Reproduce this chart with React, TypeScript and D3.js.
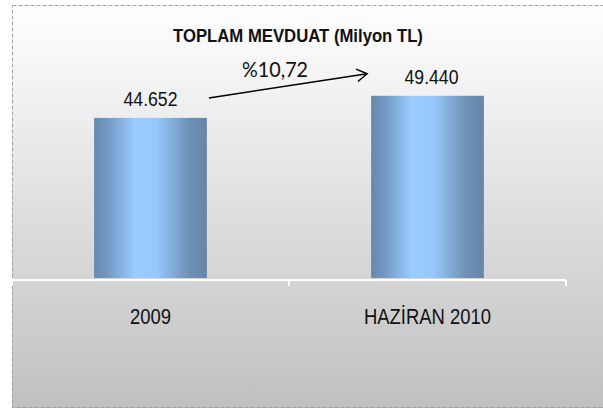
import React from "react";
import * as d3 from "d3";

const categories = ["2009", "HAZİRAN 2010"];
const values = [44652, 49440];
const title = "TOPLAM MEVDUAT (Milyon TL)";
const yDomain = [10000, 60000];

const W = 603;
const H = 419;

const trLocale = d3.formatLocale({ decimal: ",", thousands: ".", grouping: [3], currency: ["", " TL"] });
const fmtValue = trLocale.format(",.0f");
const fmtPct = trLocale.format(".2f");

export default function App() {
  const frame = { left: 12, top: 5, right: 610, bottom: 408 };
  const x = d3.scaleBand<string>().domain(categories).range([12, 566]).paddingInner(0.593).paddingOuter(0.2965);
  const xAxis = d3.scaleBand<string>().domain(categories).range([12, 566]).padding(0);
  const y = d3.scaleLinear().domain(yDomain).range([278, 47]);

  const growth = ((values[1] - values[0]) / values[0]) * 100;
  const pctText = "%" + fmtPct(growth);

  const x0 = x(categories[0])! + x.bandwidth();
  const x1 = x(categories[1])!;
  const arrowStart: [number, number] = [x0 + 2, y(values[0]) - 20];
  const arrowEnd: [number, number] = [x1 - 4, y(values[1]) - 22];
  const ang = Math.atan2(arrowEnd[1] - arrowStart[1], arrowEnd[0] - arrowStart[0]);
  const hl = 12, hw = 0.55;
  const head = [
    [arrowEnd[0] - hl * Math.cos(ang - hw), arrowEnd[1] - hl * Math.sin(ang - hw)],
    arrowEnd,
    [arrowEnd[0] - hl * Math.cos(ang + hw), arrowEnd[1] - hl * Math.sin(ang + hw)],
  ];

  const ticks = [12, ...categories.map((c) => xAxis(c)! + xAxis.bandwidth())];

  return (
    <svg width={W} height={H} style={{ position: "absolute", left: 0, top: 0 }} fontFamily="'Liberation Sans', Arial, sans-serif">
      <defs>
        <linearGradient id="bg" x1="0" y1="0" x2="0" y2="1">
          <stop offset="0" stopColor="#ffffff" />
          <stop offset="1" stopColor="#c0c0c0" />
        </linearGradient>
        <linearGradient id="bar" x1="0" y1="0" x2="1" y2="0">
          <stop offset="0" stopColor="#6788ad" />
          <stop offset="0.12" stopColor="#7399c3" />
          <stop offset="0.36" stopColor="#99ccff" />
          <stop offset="0.55" stopColor="#97c9fc" />
          <stop offset="0.84" stopColor="#6f91b6" />
          <stop offset="1" stopColor="#6585a8" />
        </linearGradient>
      </defs>
      <rect x={frame.left} y={frame.top} width={frame.right - frame.left} height={frame.bottom - frame.top} fill="url(#bg)" />
      <rect x={frame.left + 0.5} y={frame.top + 0.5} width={frame.right - frame.left} height={frame.bottom - frame.top - 1} fill="none" stroke="#a0a0a0" strokeWidth={1} strokeDasharray="4,2" />

      {categories.map((c, i) => (
        <rect key={c} x={x(c)} y={y(values[i])} width={x.bandwidth()} height={y(yDomain[0]) - y(values[i])} fill="url(#bar)" />
      ))}

      <line x1={12} x2={566} y1={280} y2={280} stroke="#ffffff" strokeWidth={2} />
      {ticks.map((t, i) => (
        <line key={i} x1={t} x2={t} y1={280} y2={286} stroke="#ffffff" strokeWidth={2} />
      ))}

      {categories.map((c, i) => (
        <text key={"v" + c} transform={`translate(${x(c)! + x.bandwidth() / 2 + (i === 1 ? 4 : 0)},${y(values[i]) - 12}) scale(0.84,1)`} textAnchor="middle" fontSize={21} fill="#111">
          {fmtValue(values[i])}
        </text>
      ))}

      {categories.map((c) => (
        <text key={"c" + c} transform={`translate(${xAxis(c)! + xAxis.bandwidth() / 2},324) scale(0.84,1)`} textAnchor="middle" fontSize={22} fill="#111">
          {c}
        </text>
      ))}

      <text transform={`translate(298,42) scale(0.88,1)`} textAnchor="middle" fontSize={19} fontWeight="bold" fill="#111">
        {title}
      </text>

      <line x1={arrowStart[0]} y1={arrowStart[1]} x2={arrowEnd[0]} y2={arrowEnd[1]} stroke="#000" strokeWidth={1.5} />
      <polyline points={head.map((p) => p.join(",")).join(" ")} fill="none" stroke="#000" strokeWidth={1.5} />
      <text x={275} y={77} textAnchor="middle" fontSize={21} fontFamily="Lato, 'Open Sans', sans-serif" fill="#111" textLength={66} lengthAdjust="spacingAndGlyphs">
        {pctText}
      </text>
    </svg>
  );
}
